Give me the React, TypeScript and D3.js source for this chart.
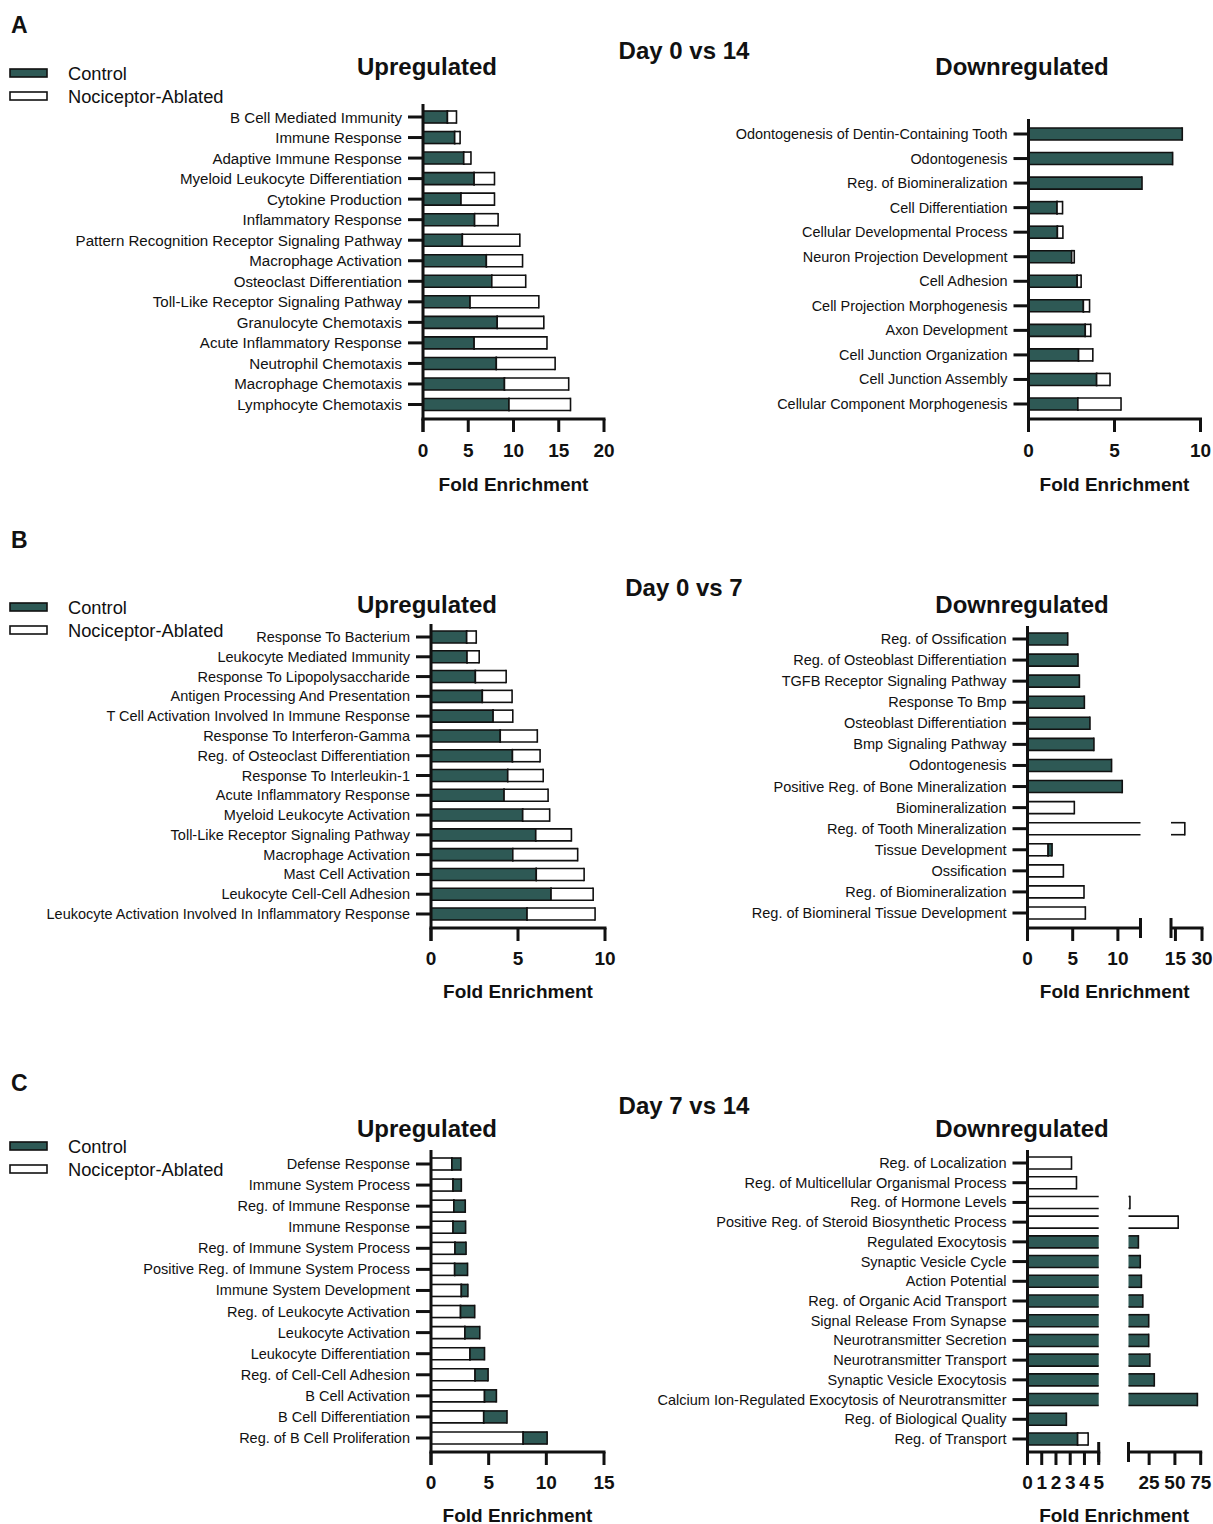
import React from 'react';
import * as d3 from 'd3';

const GREEN = '#2e5955';
const FONT = '"Liberation Sans", Arial, Helvetica, sans-serif';

// ---------- Panel A : Day 0 vs 14 ----------
const aUpCategories = [
  'B Cell Mediated Immunity', 'Immune Response', 'Adaptive Immune Response',
  'Myeloid Leukocyte Differentiation', 'Cytokine Production', 'Inflammatory Response',
  'Pattern Recognition Receptor Signaling Pathway', 'Macrophage Activation',
  'Osteoclast Differentiation', 'Toll-Like Receptor Signaling Pathway',
  'Granulocyte Chemotaxis', 'Acute Inflammatory Response', 'Neutrophil Chemotaxis',
  'Macrophage Chemotaxis', 'Lymphocyte Chemotaxis',
];
const aUpControl = [2.7, 3.5, 4.5, 5.65, 4.2, 5.7, 4.35, 7.0, 7.6, 5.2, 8.2, 5.65, 8.1, 9.0, 9.5];
const aUpAblated = [1.0, 0.6, 0.8, 2.25, 3.7, 2.6, 6.35, 4.0, 3.75, 7.6, 5.15, 8.05, 6.5, 7.1, 6.8];
const aUpTicks = [0, 5, 10, 15, 20];

const aDownCategories = [
  'Odontogenesis of Dentin-Containing Tooth', 'Odontogenesis', 'Reg. of Biomineralization',
  'Cell Differentiation', 'Cellular Developmental Process', 'Neuron Projection Development',
  'Cell Adhesion', 'Cell Projection Morphogenesis', 'Axon Development',
  'Cell Junction Organization', 'Cell Junction Assembly', 'Cellular Component Morphogenesis',
];
const aDownControl = [8.94, 8.38, 6.6, 1.66, 1.68, 2.51, 2.83, 3.19, 3.3, 2.91, 3.96, 2.87];
const aDownAblated = [0, 0, 0, 0.32, 0.32, 0.15, 0.23, 0.36, 0.32, 0.83, 0.78, 2.51];
const aDownTicks = [0, 5, 10];

// ---------- Panel B : Day 0 vs 7 ----------
const bUpCategories = [
  'Response To Bacterium', 'Leukocyte Mediated Immunity', 'Response To Lipopolysaccharide',
  'Antigen Processing And Presentation', 'T Cell Activation Involved In Immune Response',
  'Response To Interferon-Gamma', 'Reg. of Osteoclast Differentiation',
  'Response To Interleukin-1', 'Acute Inflammatory Response', 'Myeloid Leukocyte Activation',
  'Toll-Like Receptor Signaling Pathway', 'Macrophage Activation', 'Mast Cell Activation',
  'Leukocyte Cell-Cell Adhesion', 'Leukocyte Activation Involved In Inflammatory Response',
];
const bUpControl = [2.05, 2.07, 2.55, 2.95, 3.57, 3.98, 4.68, 4.41, 4.2, 5.27, 6.02, 4.7, 6.05, 6.9, 5.52];
const bUpAblated = [0.55, 0.7, 1.77, 1.71, 1.13, 2.13, 1.59, 2.04, 2.53, 1.55, 2.05, 3.73, 2.75, 2.42, 3.91];
const bUpTicks = [0, 5, 10];

const bDownCategories = [
  'Reg. of Ossification', 'Reg. of Osteoblast Differentiation', 'TGFB Receptor Signaling Pathway',
  'Response To Bmp', 'Osteoblast Differentiation', 'Bmp Signaling Pathway', 'Odontogenesis',
  'Positive Reg. of Bone Mineralization', 'Biomineralization', 'Reg. of Tooth Mineralization',
  'Tissue Development', 'Ossification', 'Reg. of Biomineralization',
  'Reg. of Biomineral Tissue Development',
];
const bDownControl = [4.45, 5.59, 5.74, 6.29, 6.91, 7.35, 9.3, 10.48, 0, 0, 0.44, 0, 0, 0];
const bDownAblated = [0, 0, 0, 0, 0, 0, 0, 0, 5.18, 20.3, 2.28, 3.97, 6.25, 6.4];
const bDownTicks1 = [0, 5, 10];
const bDownTicks2 = [15, 30];

// ---------- Panel C : Day 7 vs 14 ----------
const cUpCategories = [
  'Defense Response', 'Immune System Process', 'Reg. of Immune Response', 'Immune Response',
  'Reg. of Immune System Process', 'Positive Reg. of Immune System Process',
  'Immune System Development', 'Reg. of Leukocyte Activation', 'Leukocyte Activation',
  'Leukocyte Differentiation', 'Reg. of Cell-Cell Adhesion', 'B Cell Activation',
  'B Cell Differentiation', 'Reg. of B Cell Proliferation',
];
const cUpAblated = [1.81, 1.91, 1.98, 1.91, 2.08, 2.05, 2.63, 2.56, 2.94, 3.38, 3.82, 4.64, 4.57, 7.99];
const cUpControl = [0.78, 0.72, 0.99, 1.09, 0.96, 1.12, 0.57, 1.23, 1.29, 1.26, 1.13, 1.03, 2.02, 2.08];
const cUpTicks = [0, 5, 10, 15];

const cDownCategories = [
  'Reg. of Localization', 'Reg. of Multicellular Organismal Process', 'Reg. of Hormone Levels',
  'Positive Reg. of Steroid Biosynthetic Process', 'Regulated Exocytosis', 'Synaptic Vesicle Cycle',
  'Action Potential', 'Reg. of Organic Acid Transport', 'Signal Release From Synapse',
  'Neurotransmitter Secretion', 'Neurotransmitter Transport', 'Synaptic Vesicle Exocytosis',
  'Calcium Ion-Regulated Exocytosis of Neurotransmitter', 'Reg. of Biological Quality',
  'Reg. of Transport',
];
const cDownControl = [0, 0, 0, 0, 14.6, 16.4, 17.5, 18.9, 24.6, 24.6, 25.7, 30, 71.8, 2.73, 3.52];
const cDownAblated = [3.09, 3.44, 6.4, 53.2, 0, 0, 0, 0, 0, 0, 0, 0, 0, 0, 0.74];
const cDownTicks1 = [0, 1, 2, 3, 4, 5];
const cDownTicks2 = [25, 50, 75];

type Seg = { domain: [number, number]; range: [number, number]; ticks: number[] };

interface PanelProps {
  categories: string[];
  control: number[];
  ablated: number[];
  controlFirst: boolean;
  axisY: number;
  top: number;
  yFirst: number;
  yLast: number;
  segs: Seg[];
  labelY: number;
  titleY: number;
  fontSize: number;
}

const BAR_H = 12;
const TICK = 13;

function Panel(p: PanelProps) {
  const scales = p.segs.map((s) => d3.scaleLinear().domain(s.domain).range(s.range));
  const axisX = p.segs[0].range[0];
  const y = d3.scalePoint<string>().domain(p.categories).range([p.yFirst, p.yLast]);
  const broken = p.segs.length > 1;
  const elems: React.ReactNode[] = [];

  p.categories.forEach((c, i) => {
    const cy = y(c) as number;
    const parts = p.controlFirst
      ? [
          { v: p.control[i], fill: GREEN },
          { v: p.ablated[i], fill: '#ffffff' },
        ]
      : [
          { v: p.ablated[i], fill: '#ffffff' },
          { v: p.control[i], fill: GREEN },
        ];
    let start = 0;
    parts.forEach((part, k) => {
      if (part.v <= 0) return;
      const a = start;
      const b = start + part.v;
      start = b;
      p.segs.forEach((s, si) => {
        const lo = Math.max(a, s.domain[0]);
        const hi = Math.min(b, s.domain[1]);
        if (hi <= lo) return;
        const sc = scales[si];
        const x0 = sc(lo);
        const x1 = sc(hi);
        const y0 = cy - BAR_H / 2;
        const y1 = cy + BAR_H / 2;
        const key = `${c}-${k}-${si}`;
        elems.push(<rect key={key + 'f'} x={x0} y={y0} width={x1 - x0} height={BAR_H} fill={part.fill} />);
        elems.push(<line key={key + 't'} x1={x0} x2={x1} y1={y0} y2={y0} stroke="#111" strokeWidth={1.6} />);
        elems.push(<line key={key + 'b'} x1={x0} x2={x1} y1={y1} y2={y1} stroke="#111" strokeWidth={1.6} />);
        if (a >= s.domain[0]) elems.push(<line key={key + 'l'} x1={x0} x2={x0} y1={y0 - 0.8} y2={y1 + 0.8} stroke="#111" strokeWidth={1.6} />);
        if (b <= s.domain[1]) elems.push(<line key={key + 'r'} x1={x1} x2={x1} y1={y0 - 0.8} y2={y1 + 0.8} stroke="#111" strokeWidth={1.6} />);
      });
    });
  });

  const first = p.segs[0].range[0];
  const last = p.segs[p.segs.length - 1].range[1];
  const mid = (first + last) / 2;

  return (
    <g fontFamily={FONT}>
      {elems}
      {p.categories.map((c) => (
        <g key={'lab' + c}>
          <line x1={axisX - 15} x2={axisX} y1={y(c)} y2={y(c)} stroke="#111" strokeWidth={3} />
          <text x={axisX - 21} y={y(c)} textAnchor="end" dominantBaseline="central" fontSize={p.fontSize} fill="#111">
            {c}
          </text>
        </g>
      ))}
      <line x1={axisX} x2={axisX} y1={p.top} y2={p.axisY + TICK} stroke="#111" strokeWidth={3} />
      {p.segs.map((s, si) => (
        <g key={'seg' + si}>
          <line x1={s.range[0] - (si === 0 ? 1.5 : 0)} x2={s.range[1] + 1.5} y1={p.axisY} y2={p.axisY} stroke="#111" strokeWidth={3} />
          {s.ticks.map((t) => (
            <g key={'t' + t}>
              <line x1={scales[si](t)} x2={scales[si](t)} y1={p.axisY} y2={p.axisY + TICK} stroke="#111" strokeWidth={3} />
              <text x={scales[si](t)} y={p.labelY} textAnchor="middle" dominantBaseline="central" fontSize={19} fontWeight="bold" fill="#111">
                {t}
              </text>
            </g>
          ))}
          {broken && si === 0 && (
            <line x1={s.range[1]} x2={s.range[1]} y1={p.axisY - 10} y2={p.axisY + 10} stroke="#111" strokeWidth={3} />
          )}
          {broken && si > 0 && (
            <line x1={s.range[0]} x2={s.range[0]} y1={p.axisY - 10} y2={p.axisY + 10} stroke="#111" strokeWidth={3} />
          )}
        </g>
      ))}
      <text x={mid} y={p.titleY} textAnchor="middle" dominantBaseline="central" fontSize={19} fontWeight="bold" fill="#111">
        Fold Enrichment
      </text>
    </g>
  );
}

function Headers({ letter, letterY, day, dayY, titleY, legendY }: { letter: string; letterY: number; day: string; dayY: number; titleY: number; legendY: number }) {
  return (
    <g fontFamily={FONT} fill="#111">
      <text x={11} y={letterY} dominantBaseline="central" fontSize={23} fontWeight="bold">{letter}</text>
      <text x={684} y={dayY} textAnchor="middle" dominantBaseline="central" fontSize={24} fontWeight="bold">{day}</text>
      <text x={427} y={titleY} textAnchor="middle" dominantBaseline="central" fontSize={24} fontWeight="bold">Upregulated</text>
      <text x={1022} y={titleY} textAnchor="middle" dominantBaseline="central" fontSize={24} fontWeight="bold">Downregulated</text>
      <rect x={10} y={legendY - 4} width={37} height={8} fill={GREEN} stroke="#111" strokeWidth={1.6} />
      <text x={68} y={legendY} dominantBaseline="central" fontSize={18.3}>Control</text>
      <rect x={10} y={legendY + 23 - 4} width={37} height={8} fill="#fff" stroke="#111" strokeWidth={1.6} />
      <text x={68} y={legendY + 23} dominantBaseline="central" fontSize={18.3}>Nociceptor-Ablated</text>
    </g>
  );
}

export default function App() {
  return (
    <svg width={1213} height={1524} style={{ position: 'absolute', left: 0, top: 0, background: '#fff' }}>
      <rect width={1213} height={1524} fill="#fff" />
      <Headers letter="A" letterY={25} day="Day 0 vs 14" dayY={50} titleY={66} legendY={73} />
      <Headers letter="B" letterY={540} day="Day 0 vs 7" dayY={587} titleY={604} legendY={607} />
      <Headers letter="C" letterY={1083} day="Day 7 vs 14" dayY={1105} titleY={1128} legendY={1146} />

      <Panel categories={aUpCategories} control={aUpControl} ablated={aUpAblated} controlFirst fontSize={15.1}
        axisY={419} top={104} yFirst={117} yLast={404.5} labelY={450} titleY={484}
        segs={[{ domain: [0, 20], range: [423, 604], ticks: aUpTicks }]} />
      <Panel categories={aDownCategories} control={aDownControl} ablated={aDownAblated} controlFirst fontSize={14.45}
        axisY={419} top={119} yFirst={134} yLast={404} labelY={450} titleY={484}
        segs={[{ domain: [0, 10], range: [1028.5, 1200.5], ticks: aDownTicks }]} />

      <Panel categories={bUpCategories} control={bUpControl} ablated={bUpAblated} controlFirst fontSize={14.5}
        axisY={928} top={624} yFirst={637} yLast={914} labelY={958} titleY={991}
        segs={[{ domain: [0, 10], range: [431, 605], ticks: bUpTicks }]} />
      <Panel categories={bDownCategories} control={bDownControl} ablated={bDownAblated} controlFirst={false} fontSize={14.5}
        axisY={928} top={626} yFirst={639} yLast={913} labelY={958} titleY={991}
        segs={[
          { domain: [0, 12.5], range: [1027.5, 1140.5], ticks: bDownTicks1 },
          { domain: [12.5, 30], range: [1171, 1202], ticks: bDownTicks2 },
        ]} />

      <Panel categories={cUpCategories} control={cUpControl} ablated={cUpAblated} controlFirst={false} fontSize={14.5}
        axisY={1452} top={1150} yFirst={1164} yLast={1438} labelY={1482} titleY={1515}
        segs={[{ domain: [0, 15], range: [431, 604], ticks: cUpTicks }]} />
      <Panel categories={cDownCategories} control={cDownControl} ablated={cDownAblated} controlFirst fontSize={14.5}
        axisY={1452} top={1150} yFirst={1163} yLast={1439} labelY={1482} titleY={1515}
        segs={[
          { domain: [0, 5], range: [1027.5, 1098.7], ticks: cDownTicks1 },
          { domain: [5, 75], range: [1128.5, 1200.7], ticks: cDownTicks2 },
        ]} />
    </svg>
  );
}
